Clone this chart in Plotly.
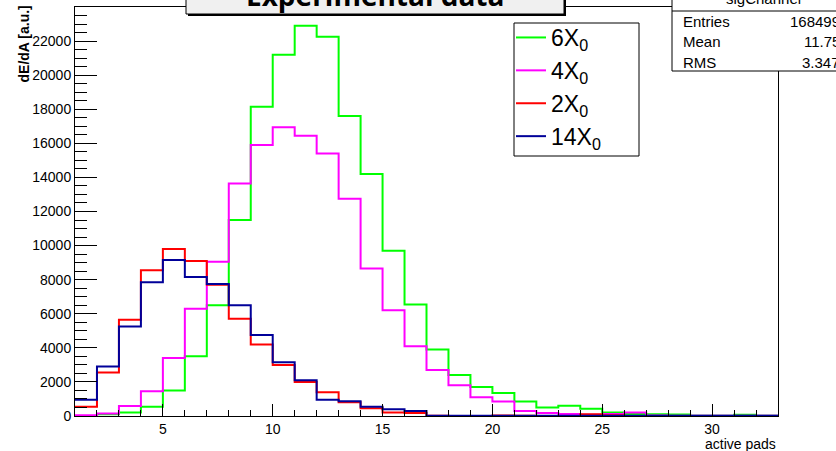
import plotly.graph_objects as go

# Bin edges: 32 unit-wide bins of active pad multiplicity, from 1 to 33
bin_edges = list(range(1, 34))

# Bin contents (dE/dA, arbitrary units) for each absorber thickness
counts_6x0 = [0, 100, 200, 550, 1500, 3500, 6500, 11500, 18150, 21200, 22900, 22250,
              17600, 14200, 9700, 6550, 3900, 2400, 1700, 1350, 850, 500, 600, 420,
              200, 120, 100, 90, 20, 20, 80, 10]
counts_4x0 = [50, 150, 580, 1450, 3400, 6300, 9050, 13650, 15900, 16950, 16450, 15400,
              12750, 8650, 6200, 4100, 2700, 1800, 1100, 850, 300, 180, 120, 80,
              120, 210, 30, 20, 20, 20, 10, 10]
counts_2x0 = [550, 2550, 5650, 8550, 9800, 9100, 7700, 5700, 4200, 3000, 2000, 1400,
              800, 450, 200, 180, 10, 5, 5, 30, 10, 5, 5, 100,
              50, 5, 5, 5, 5, 5, 5, 5]
counts_14x0 = [950, 2900, 5250, 7850, 9150, 8150, 7750, 6500, 4750, 3150, 2100, 950,
               860, 550, 400, 300, 20, 15, 10, 10, 10, 10, 10, 10,
               10, 10, 10, 10, 10, 10, 10, 10]

series_names = ["6X<sub>0</sub>", "4X<sub>0</sub>", "2X<sub>0</sub>", "14X<sub>0</sub>"]
series_counts = [counts_6x0, counts_4x0, counts_2x0, counts_14x0]
series_colors = ["#00ff00", "#ff00ff", "#ff0000", "#000099"]

# Statistics box of the first histogram
stats_title = "sigChannel"
stats_labels = ["Entries", "Mean", "RMS"]
stats_values = ["168499", "11.75", "3.347"]

W, H = 836, 451
ML, MR, MT, MB = 75, 58, 7, 35
PW, PH = W - ML - MR, H - MT - MB


def px(x):
    """Horizontal pixel position -> paper coordinate."""
    return (x - ML) / PW


def py(y):
    """Vertical pixel position (from top) -> paper coordinate."""
    return (H - MB - y) / PH


AX_FONT = "Liberation Sans, Arial, sans-serif"

fig = go.Figure()

for i, (name, vals, col) in enumerate(zip(series_names, series_counts, series_colors)):
    fig.add_trace(go.Scatter(
        x=bin_edges,
        y=vals + [vals[-1]],
        mode="lines",
        line=dict(color=col, width=2, shape="hv"),
        name=name,
        legendgroup=f"g{i}",
        hoverinfo="skip",
    ))

shapes = []
annotations = []

# Title box with drop shadow
shapes.append(dict(type="rect", xref="paper", yref="paper",
                   x0=px(188), x1=px(566), y0=py(16), y1=py(-40),
                   fillcolor="black", line=dict(width=0), layer="above"))
shapes.append(dict(type="rect", xref="paper", yref="paper",
                   x0=px(186), x1=px(564), y0=py(14), y1=py(-40),
                   fillcolor="#f0f0f0", line=dict(color="black", width=1), layer="above"))
annotations.append(dict(xref="paper", yref="paper", x=px(375), y=py(-5),
                        xanchor="center", yanchor="middle", showarrow=False,
                        text="<b>Experimental data</b>",
                        font=dict(family="Open Sans, DejaVu Sans, sans-serif", size=28, color="black")))

# Legend frame (the legend entries themselves come from the traces)
shapes.append(dict(type="rect", xref="paper", yref="paper",
                   x0=px(514), x1=px(639), y0=py(156), y1=py(23),
                   fillcolor="white", line=dict(color="black", width=1), layer="above"))

# Statistics box
shapes.append(dict(type="rect", xref="paper", yref="paper",
                   x0=px(672), x1=px(860), y0=py(71), y1=py(-40),
                   fillcolor="white", line=dict(color="black", width=1), layer="above"))
shapes.append(dict(type="line", xref="paper", yref="paper",
                   x0=px(672), x1=px(860), y0=py(11), y1=py(11),
                   line=dict(color="black", width=1), layer="above"))
annotations.append(dict(xref="paper", yref="paper", x=px(763), y=py(-1),
                        xanchor="center", yanchor="middle", showarrow=False,
                        text=stats_title,
                        font=dict(family=AX_FONT, size=15, color="black")))
for k, (lab, val) in enumerate(zip(stats_labels, stats_values)):
    yc = 21 + 20.5 * k
    annotations.append(dict(xref="paper", yref="paper", x=px(681), y=py(yc),
                            xanchor="left", yanchor="middle", showarrow=False,
                            text=lab, font=dict(family=AX_FONT, size=15, color="black")))
    annotations.append(dict(xref="paper", yref="paper", x=px(842), y=py(yc),
                            xanchor="right", yanchor="middle", showarrow=False,
                            text=val, font=dict(family=AX_FONT, size=15, color="black")))

# Axis titles
annotations.append(dict(xref="paper", yref="paper", x=px(23), y=py(4),
                        xanchor="center", yanchor="top", showarrow=False, textangle=-90,
                        text="<b>dE/dA [a.u.]</b>",
                        font=dict(family=AX_FONT, size=14, color="black")))
annotations.append(dict(xref="paper", yref="paper", x=px(778), y=py(444),
                        xanchor="right", yanchor="middle", showarrow=False,
                        text="active pads",
                        font=dict(family=AX_FONT, size=14, color="black")))

fig.update_layout(
    width=W, height=H,
    margin=dict(l=ML, r=MR, t=MT, b=MB, pad=0),
    paper_bgcolor="white", plot_bgcolor="white",
    showlegend=True,
    legend=dict(x=px(511), y=py(16), xanchor="left", yanchor="top",
                bgcolor="rgba(0,0,0,0)", borderwidth=0,
                font=dict(family=AX_FONT, size=23, color="black"),
                tracegroupgap=0, itemwidth=30),
    shapes=shapes,
    annotations=annotations,
    xaxis=dict(range=[1, 33], showgrid=False, zeroline=False,
               showline=True, linecolor="black", linewidth=1, mirror=True,
               ticks="inside", ticklen=12, tickwidth=1, tickcolor="black",
               tick0=0, dtick=5,
               minor=dict(ticks="inside", ticklen=6, tickwidth=1, tickcolor="black",
                          dtick=1, tick0=0, showgrid=False),
               tickfont=dict(family=AX_FONT, size=14, color="black")),
    yaxis=dict(range=[0, 24000], showgrid=False, zeroline=False,
               showline=True, linecolor="black", linewidth=1, mirror=True,
               ticks="inside", ticklen=22, tickwidth=1, tickcolor="black",
               tick0=0, dtick=2000, tickformat="d",
               minor=dict(ticks="inside", ticklen=12, tickwidth=1, tickcolor="black",
                          dtick=500, tick0=0, showgrid=False),
               tickfont=dict(family=AX_FONT, size=14, color="black")),
)

fig.write_html("out.html")
